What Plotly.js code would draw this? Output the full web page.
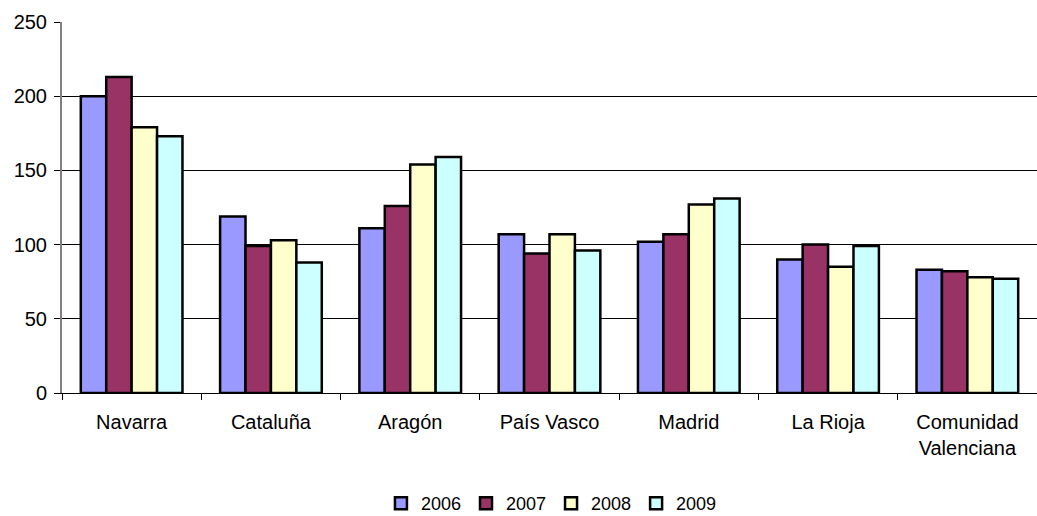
<!DOCTYPE html>
<html>
<head>
<meta charset="utf-8">
<script src="https://cdn.plot.ly/plotly-3.0.1.min.js"></script>
<style>html,body{margin:0;padding:0;background:#fff;}#chart{width:1037px;height:516px;}</style>
</head>
<body>
<div id="chart"></div>
<script>
const categories = ["Navarra", "Cataluña", "Aragón", "País Vasco", "Madrid", "La Rioja", "Comunidad<br>Valenciana"];
const years = ["2006", "2007", "2008", "2009"];
const v2006 = [200, 119, 111, 107, 102, 90, 83];
const v2007 = [213, 99, 126, 94, 107, 100, 82];
const v2008 = [179, 103, 154, 107, 127, 85, 78];
const v2009 = [173, 88, 159, 96, 131, 99, 77];
const colors = ["#9999FF", "#993366", "#FFFFCC", "#CCFFFF"];
const series = [v2006, v2007, v2008, v2009];

const traces = series.map((vals, i) => ({
  type: "bar",
  name: years[i],
  x: categories,
  y: vals,
  marker: {color: colors[i], line: {color: "#000000", width: 2.5}},
  hoverinfo: "x+y+name"
}));

const layout = {
  width: 1037, height: 516,
  margin: {l: 62, r: 0, t: 22, b: 123, autoexpand: false},
  paper_bgcolor: "#ffffff", plot_bgcolor: "#ffffff",
  font: {family: "Arial, 'Liberation Sans', sans-serif", size: 20, color: "#000"},
  barmode: "group",
  bargap: 0.27,
  bargroupgap: 0,
  showlegend: true,
  legend: {orientation: "h", x: 0.502, xanchor: "center", y: -0.298, yanchor: "middle",
           font: {size: 18}, itemwidth: 30, tracegroupgap: 0, traceorder: "normal"},
  xaxis: {
    type: "category",
    showline: true, linecolor: "#000", linewidth: 1,
    ticks: "outside", tickson: "boundaries", ticklen: 6, tickcolor: "#000",
    showgrid: false, zeroline: false,
    ticklabelstandoff: 11,
    tickfont: {size: 20}
  },
  yaxis: {
    range: [0, 250], dtick: 50,
    showline: true, linecolor: "#808080", linewidth: 2,
    ticks: "outside", ticklen: 6, tickcolor: "#000",
    showgrid: true, gridcolor: "#000", gridwidth: 1,
    zeroline: false,
    ticklabelstandoff: 3,
    tickfont: {size: 20}
  }
};

Plotly.newPlot("chart", traces, layout, {displayModeBar: false, staticPlot: true});
</script>
</body>
</html>
